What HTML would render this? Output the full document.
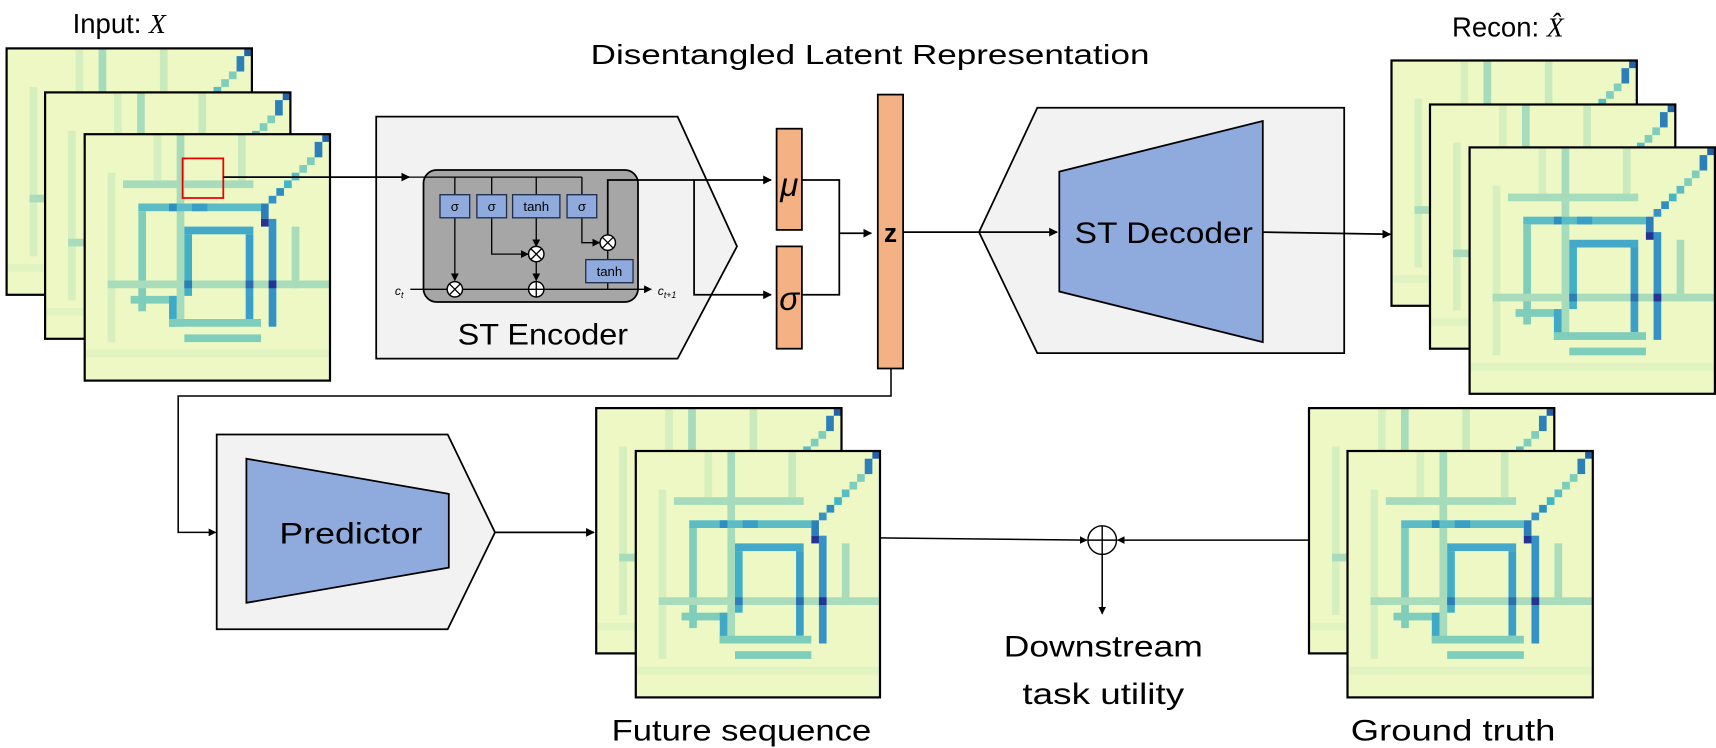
<!DOCTYPE html>
<html><head><meta charset="utf-8"><style>
html,body{margin:0;padding:0;background:#fff;}
svg{display:block;}
text{font-family:"Liberation Sans",sans-serif;fill:#000;}
</style></head><body>
<svg width="1716" height="748" viewBox="0 0 1560 680" xmlns="http://www.w3.org/2000/svg">
<defs>
<marker id="ar" viewBox="0 0 10 10" refX="9" refY="5" markerWidth="5" markerHeight="5" orient="auto" markerUnits="strokeWidth"><path d="M0,0 L10,5 L0,10 z" fill="#000"/></marker>
<marker id="as" viewBox="0 0 10 10" refX="9" refY="5" markerWidth="6" markerHeight="6" orient="auto" markerUnits="strokeWidth"><path d="M0,0 L10,5 L0,10 z" fill="#000"/></marker>
<symbol id="hm" viewBox="0 0 32 32" preserveAspectRatio="none">
<g stroke="none">
<rect width="32" height="32" fill="#edf8c4"/>
<rect x="3" y="5" width="1" height="22" fill="#d6efbe"/>
<rect x="0" y="28" width="32" height="1" fill="#e0f3c1"/>
<rect x="20" y="0" width="1" height="6" fill="#c9eabd"/>
<rect x="9" y="0" width="1" height="6" fill="#d6efbe"/>
<rect x="5" y="6" width="17" height="1" fill="#a6dbbb"/>
<rect x="12" y="0" width="1" height="25" fill="#a6dbbb"/>
<rect x="7" y="9" width="16" height="1" fill="#5bbcc5"/>
<rect x="11" y="9" width="1" height="1" fill="#2c8fc0"/>
<rect x="14" y="9" width="2" height="1" fill="#3a9fc6"/>
<rect x="13" y="12" width="9" height="1" fill="#44a9c8"/>
<rect x="7" y="10" width="1" height="13" fill="#7fcdbb"/>
<rect x="3" y="19" width="29" height="1" fill="#a8dcbb"/>
<rect x="13" y="13" width="1" height="8" fill="#41b0c6"/>
<rect x="21" y="13" width="1" height="11" fill="#3aa0c8"/>
<rect x="24" y="11" width="1" height="14" fill="#3592c4"/>
<rect x="27" y="12" width="1" height="8" fill="#a8dcbb"/>
<rect x="13" y="19" width="1" height="1" fill="#2c7fb8"/>
<rect x="21" y="19" width="1" height="1" fill="#2c6fb0"/>
<rect x="24" y="19" width="1" height="1" fill="#253494"/>
<rect x="6" y="21" width="6" height="1" fill="#7fcdbb"/>
<rect x="11" y="21" width="1" height="4" fill="#41a9c8"/>
<rect x="11" y="24" width="12" height="1" fill="#7fcdbb"/>
<rect x="13" y="26" width="10" height="1" fill="#7fcdbb"/>
<rect x="31" y="0" width="1" height="1" fill="#2262a8"/>
<rect x="30" y="1" width="1" height="2" fill="#2c7fb8"/>
<rect x="29" y="3" width="1" height="1" fill="#7fcdbb"/>
<rect x="28" y="4" width="1" height="1" fill="#7fcdbb"/>
<rect x="27" y="5" width="1" height="1" fill="#5bbcc5"/>
<rect x="26" y="6" width="1" height="1" fill="#41b6c4"/>
<rect x="25" y="7" width="1" height="1" fill="#2c8fc0"/>
<rect x="24" y="8" width="1" height="1" fill="#3592c4"/>
<rect x="23" y="9" width="1" height="2" fill="#2c7fb8"/>
<rect x="23" y="11" width="1" height="1" fill="#253494"/>
</g>
</symbol>
</defs>

<!-- Input frames -->
<use href="#hm" x="6" y="44" width="223" height="224"/><rect x="6" y="44" width="223" height="224" fill="none" stroke="#000" stroke-width="2"/>
<use href="#hm" x="41" y="84" width="223" height="224"/><rect x="41" y="84" width="223" height="224" fill="none" stroke="#000" stroke-width="2"/>
<use href="#hm" x="77" y="122" width="223" height="224"/><rect x="77" y="122" width="223" height="224" fill="none" stroke="#000" stroke-width="2"/>
<rect x="166" y="144" width="37" height="36" fill="none" stroke="#e00" stroke-width="1.6"/>
<text x="66" y="30" font-size="25">Input: <tspan font-family="Liberation Serif" font-style="italic">X</tspan></text>
<text x="537" y="58" font-size="25" textLength="508" lengthAdjust="spacingAndGlyphs">Disentangled Latent Representation</text>

<!-- Encoder -->
<polygon points="342,106 616,106 670,224 616,326 342,326" fill="#f2f2f2" stroke="#000" stroke-width="1.6"/>
<rect x="385" y="154.5" width="195" height="120" rx="12" fill="#a6a6a6" stroke="#000" stroke-width="1.6"/>
<line x1="203" y1="161" x2="372" y2="161" stroke="#000" stroke-width="1.6" marker-end="url(#ar)"/>
<g stroke="#000" stroke-width="1.2" fill="none">
<polyline points="372,161 529,161"/>
<line x1="413.5" y1="161" x2="413.5" y2="177"/>
<line x1="447" y1="161" x2="447" y2="177"/>
<line x1="487.5" y1="161" x2="487.5" y2="177"/>
<line x1="529" y1="161" x2="529" y2="177"/>
<line x1="413.5" y1="198" x2="413.5" y2="255" marker-end="url(#as)"/>
<polyline points="447,198 447,231 480,231" marker-end="url(#as)"/>
<line x1="487.5" y1="198" x2="487.5" y2="224" marker-end="url(#as)"/>
<line x1="487.5" y1="238" x2="487.5" y2="255" marker-end="url(#as)"/>
<polyline points="529,198 529,220.6 545,220.6" marker-end="url(#as)"/>
<line x1="552.5" y1="228" x2="552.5" y2="236"/>
<line x1="552.5" y1="257" x2="552.5" y2="263"/>
<line x1="373" y1="263" x2="592" y2="263" marker-end="url(#as)"/>
</g>
<g fill="#8faadc" stroke="#1f2d4d" stroke-width="1.2">
<rect x="400" y="177" width="27" height="21"/>
<rect x="433.5" y="177" width="27" height="21"/>
<rect x="466" y="177" width="43" height="21"/>
<rect x="515.5" y="177" width="27" height="21"/>
<rect x="532.5" y="236" width="43" height="21"/>
</g>
<g font-size="12" text-anchor="middle">
<text x="413.5" y="192">σ</text><text x="447" y="192">σ</text><text x="487.5" y="192">tanh</text><text x="529" y="192">σ</text><text x="554" y="251">tanh</text>
</g>
<g fill="#fff" stroke="#000" stroke-width="1.3">
<circle cx="413.5" cy="263" r="7"/><circle cx="487.5" cy="231" r="7"/><circle cx="487.5" cy="263" r="7"/><circle cx="552.5" cy="220.6" r="7"/>
</g>
<g stroke="#000" stroke-width="1.2">
<path d="M408.5,258 L418.5,268 M418.5,258 L408.5,268"/>
<path d="M482.5,226 L492.5,236 M492.5,226 L482.5,236"/>
<path d="M547.5,215.6 L557.5,225.6 M557.5,215.6 L547.5,225.6"/>
<path d="M480.5,263 L494.5,263 M487.5,256 L487.5,270"/>
</g>
<text x="359" y="268" font-size="11" font-family="Liberation Serif" font-style="italic">c<tspan font-size="8" dy="3">t</tspan></text>
<text x="598" y="268" font-size="11" font-family="Liberation Serif" font-style="italic">c<tspan font-size="8" dy="3">t+1</tspan></text>
<text x="416" y="313" font-size="27" textLength="155" lengthAdjust="spacingAndGlyphs">ST Encoder</text>
<g stroke="#000" stroke-width="1.6" fill="none">
<polyline points="552.5,213.6 552.5,163.6 701,163.6" marker-end="url(#ar)"/>
<polyline points="631,163.6 631,268 701,268" marker-end="url(#ar)"/>
<polyline points="727,163.6 763,163.6 763,268 727,268"/>
<line x1="763" y1="212" x2="792" y2="212" marker-end="url(#ar)"/>
</g>
<rect x="706" y="117" width="23" height="92" fill="#f4b183" stroke="#000" stroke-width="1.6"/>
<rect x="706" y="224" width="23" height="93" fill="#f4b183" stroke="#000" stroke-width="1.6"/>
<text x="717.5" y="178" font-size="30" text-anchor="middle" font-family="Liberation Serif" font-style="italic">μ</text>
<text x="717.5" y="282" font-size="30" text-anchor="middle" font-family="Liberation Serif" font-style="italic">σ</text>
<rect x="798" y="86" width="23" height="249" fill="#f4b183" stroke="#000" stroke-width="1.6"/>
<text x="809.5" y="220" font-size="24" text-anchor="middle" font-family="Liberation Serif" font-weight="bold">z</text>

<!-- Decoder -->
<polygon points="943,98 1222,98 1222,321 943,321 890,211" fill="#f2f2f2" stroke="#000" stroke-width="1.6"/>
<polygon points="963,156 1148,110 1148,311 963,265" fill="#8faadc" stroke="#000" stroke-width="1.6"/>
<line x1="821" y1="211" x2="961" y2="211" stroke="#000" stroke-width="1.6" marker-end="url(#ar)"/>
<text x="977" y="221" font-size="27" textLength="162" lengthAdjust="spacingAndGlyphs">ST Decoder</text>
<line x1="1148" y1="211" x2="1264" y2="213" stroke="#000" stroke-width="1.6" marker-end="url(#ar)"/>

<!-- Recon frames -->
<use href="#hm" x="1265" y="55" width="223" height="223"/><rect x="1265" y="55" width="223" height="223" fill="none" stroke="#000" stroke-width="2"/>
<use href="#hm" x="1300" y="95" width="223" height="222"/><rect x="1300" y="95" width="223" height="222" fill="none" stroke="#000" stroke-width="2"/>
<use href="#hm" x="1336" y="134" width="223" height="224"/><rect x="1336" y="134" width="223" height="224" fill="none" stroke="#000" stroke-width="2"/>
<text x="1320" y="33" font-size="25">Recon: <tspan font-family="Liberation Serif" font-style="italic">X̂</tspan></text>

<!-- z to predictor -->
<polyline points="810,335 810,360 162,360 162,484 196,484" fill="none" stroke="#000" stroke-width="1.4" marker-end="url(#ar)"/>
<polygon points="197,395 407,395 450,484 407,572 197,572" fill="#f2f2f2" stroke="#000" stroke-width="1.6"/>
<polygon points="224,417 408,449 408,516 224,548" fill="#8faadc" stroke="#000" stroke-width="1.6"/>
<text x="254" y="494" font-size="27" textLength="130" lengthAdjust="spacingAndGlyphs">Predictor</text>
<line x1="450" y1="484" x2="540" y2="484" stroke="#000" stroke-width="1.6" marker-end="url(#ar)"/>

<!-- Future & ground truth frames -->
<use href="#hm" x="542" y="371" width="223" height="223"/><rect x="542" y="371" width="223" height="223" fill="none" stroke="#000" stroke-width="2"/>
<use href="#hm" x="578" y="410" width="222" height="224"/><rect x="578" y="410" width="222" height="224" fill="none" stroke="#000" stroke-width="2"/>
<use href="#hm" x="1190" y="371" width="223" height="223"/><rect x="1190" y="371" width="223" height="223" fill="none" stroke="#000" stroke-width="2"/>
<use href="#hm" x="1225" y="410" width="223" height="224"/><rect x="1225" y="410" width="223" height="224" fill="none" stroke="#000" stroke-width="2"/>
<line x1="800" y1="489" x2="988" y2="491" stroke="#000" stroke-width="1.4" marker-end="url(#ar)"/>
<line x1="1190" y1="491" x2="1016" y2="491" stroke="#000" stroke-width="1.4" marker-end="url(#ar)"/>
<circle cx="1002" cy="491" r="13" fill="#fff" stroke="#000" stroke-width="1.3"/>
<path d="M989,491 L1015,491 M1002,478 L1002,504" stroke="#000" stroke-width="1.3"/>
<line x1="1002" y1="504" x2="1002" y2="558" stroke="#000" stroke-width="1.4" marker-end="url(#ar)"/>
<text x="1003" y="597" font-size="27" text-anchor="middle" textLength="181" lengthAdjust="spacingAndGlyphs">Downstream</text>
<text x="1003" y="640" font-size="27" text-anchor="middle" textLength="147" lengthAdjust="spacingAndGlyphs">task utility</text>
<text x="674" y="673" font-size="27" text-anchor="middle" textLength="236" lengthAdjust="spacingAndGlyphs">Future sequence</text>
<text x="1321" y="673" font-size="27" text-anchor="middle" textLength="186" lengthAdjust="spacingAndGlyphs">Ground truth</text>
</svg>
</body></html>
